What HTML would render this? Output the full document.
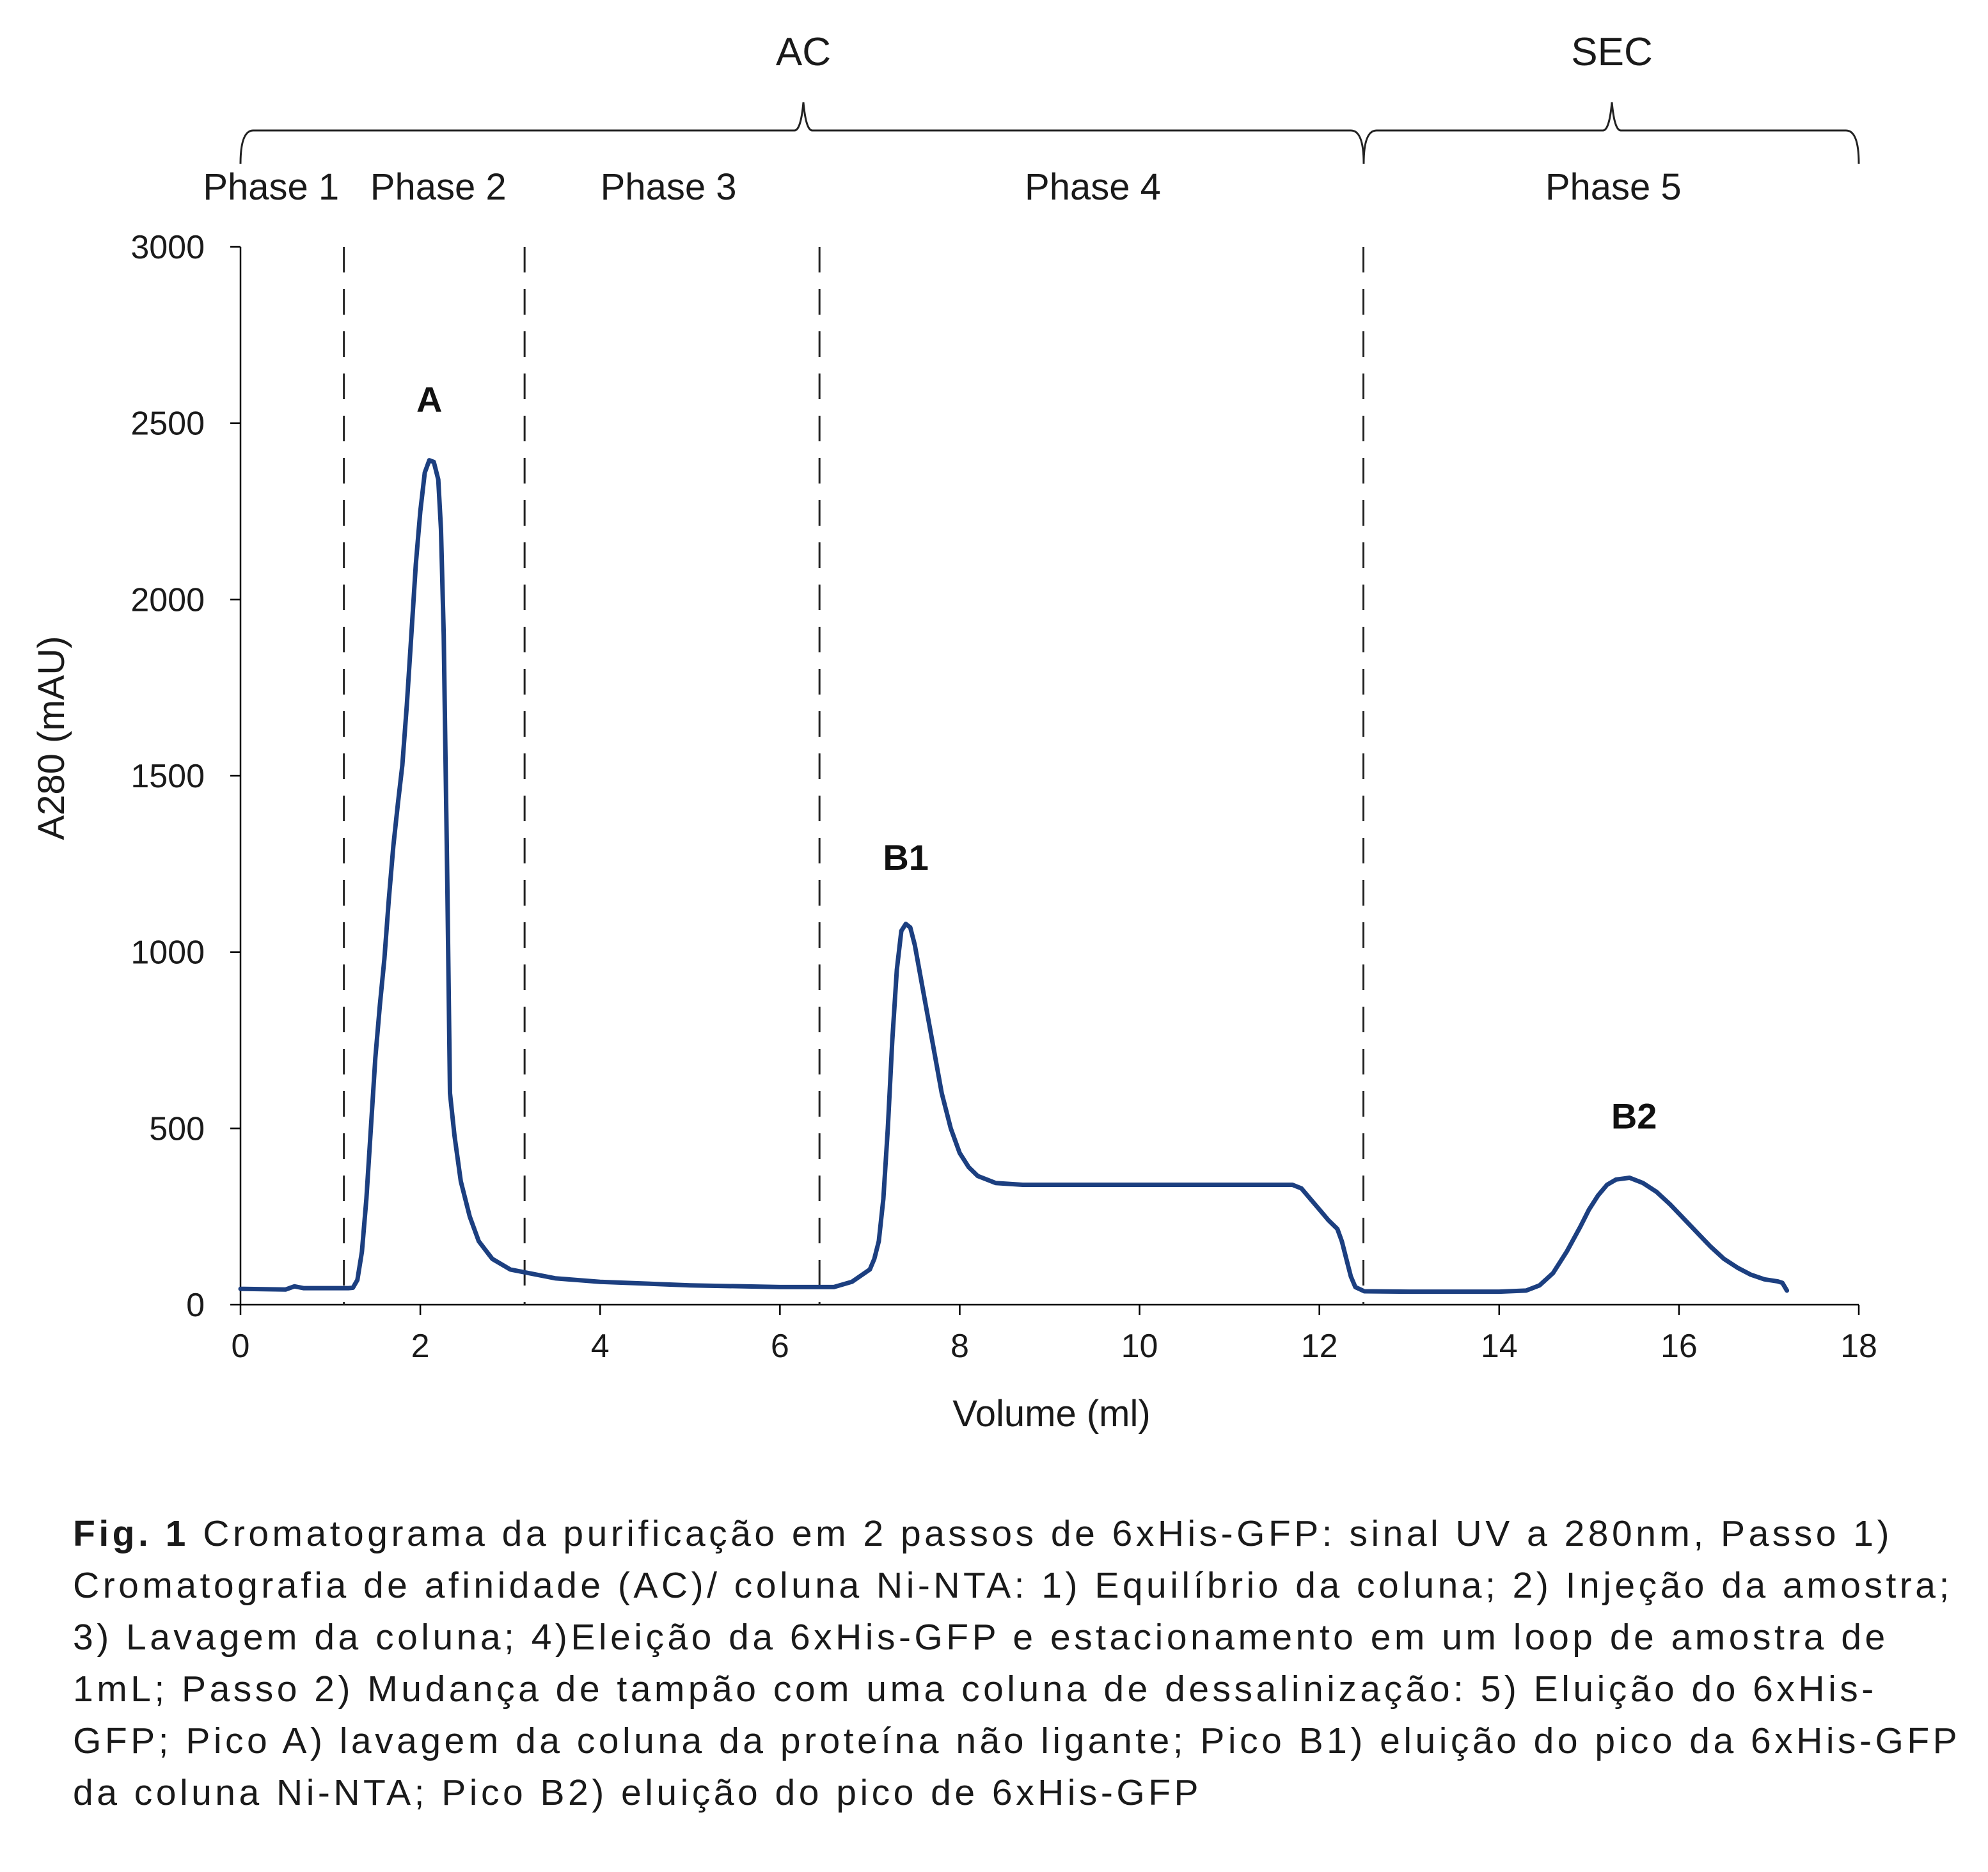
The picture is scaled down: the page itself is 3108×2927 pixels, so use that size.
<!DOCTYPE html>
<html><head><meta charset="utf-8"><style>
html,body{margin:0;padding:0;background:#fff;}
body{width:3108px;height:2927px;overflow:hidden;position:relative;font-family:"Liberation Sans",sans-serif;}
#cap{position:absolute;left:114px;top:2358px;width:2960px;font-size:57px;line-height:81px;color:#1a1a1a;letter-spacing:5.5px;}
</style></head><body>
<svg id="chart" width="3108" height="2300" style="position:absolute;left:0;top:0" font-family="Liberation Sans, sans-serif"></svg>
<div id="cap"><b>Fig. 1</b> Cromatograma da purificação em 2 passos de 6xHis-GFP: sinal UV a 280nm, Passo 1) Cromatografia de afinidade (AC)/ coluna Ni-NTA: 1) Equilíbrio da coluna; 2) Injeção da amostra; 3) Lavagem da coluna; 4)Eleição da 6xHis-GFP e estacionamento em um loop de amostra de 1mL; Passo 2) Mudança de tampão com uma coluna de dessalinização: 5) Eluição do 6xHis-GFP; Pico A) lavagem da coluna da proteína não ligante; Pico B1) eluição do pico da 6xHis-GFP da coluna Ni-NTA; Pico B2) eluição do pico de 6xHis-GFP</div>
<script>
const volumes=[0,0.5,0.6,0.7,1.2,1.25,1.3,1.35,1.4,1.45,1.5,1.55,1.6,1.65,1.7,1.75,1.8,1.85,1.9,1.95,2.0,2.05,2.1,2.15,2.2,2.23,2.26,2.3,2.33,2.38,2.45,2.55,2.65,2.8,3.0,3.5,4,5,6,6.6,6.8,7.0,7.05,7.1,7.15,7.2,7.25,7.3,7.35,7.4,7.45,7.5,7.6,7.7,7.8,7.9,8.0,8.1,8.2,8.4,8.7,9,10,11,11.7,11.8,11.9,12.0,12.1,12.2,12.25,12.3,12.35,12.4,12.5,13,14,14.3,14.45,14.6,14.75,14.9,15.0,15.1,15.2,15.3,15.45,15.6,15.75,15.9,16.05,16.2,16.35,16.5,16.65,16.8,16.95,17.1,17.15,17.2];
const absorb=[45,43,52,47,47,48,70,150,300,500,700,850,980,1150,1300,1420,1530,1700,1900,2100,2250,2360,2395,2390,2340,2200,1900,1200,600,480,350,250,180,130,100,75,65,55,50,50,65,100,130,180,300,500,750,950,1060,1080,1070,1020,880,740,600,500,430,390,365,345,340,340,340,340,340,330,300,270,240,215,180,130,80,50,38,37,37,40,55,90,150,220,270,310,340,355,360,345,320,285,245,205,165,130,105,85,72,66,62,40];
const xTicks=[0,2,4,6,8,10,12,14,16,18];
const yTicks=[0,500,1000,1500,2000,2500,3000];
const phaseBounds=[1.15,3.16,6.44,12.49];
const phaseLabels=["Phase 1","Phase 2","Phase 3","Phase 4","Phase 5"];
const phaseCenters=[0.34,2.2,4.76,9.48,15.27];
const peakLabels=["A","B1","B2"];
const peakPos=[[2.1,2532],[7.4,1233],[15.5,500]];
const X0=376,X1=2906,Y0=2040,Y1=386;
const sx=v=>X0+(X1-X0)*v/18, sy=v=>Y0-(Y0-Y1)*v/3000;
const svg=document.getElementById('chart');const NS='http://www.w3.org/2000/svg';
function mk(t,a,txt){const e=document.createElementNS(NS,t);for(const k in a)e.setAttribute(k,a[k]);if(txt!=null)e.textContent=txt;svg.appendChild(e);return e;}
let e;
e=mk('line',{x1:X0,y1:Y1,x2:X0,y2:Y0,stroke:'#000','stroke-width':2.5});


e=mk('line',{x1:X0,y1:Y0,x2:X1,y2:Y0,stroke:'#000','stroke-width':2.5});


xTicks.forEach(t=>{mk('line',{x1:sx(t),y1:Y0,x2:sx(t),y2:Y0+16,stroke:'#000','stroke-width':2.5});
e=mk('text',{x:sx(t),y:Y0+82,'font-size':52,'text-anchor':'middle',fill:'#1a1a1a'},t);

});
yTicks.forEach(t=>{mk('line',{x1:X0-16,y1:sy(t),x2:X0,y2:sy(t),stroke:'#000','stroke-width':2.5});
e=mk('text',{x:X0-56,y:sy(t)+18,'font-size':52,'text-anchor':'end',fill:'#1a1a1a'},t);

});
e=mk('text',{x:1644,y:2230,'font-size':58,'text-anchor':'middle',fill:'#1a1a1a'},'Volume (ml)');


e=mk('text',{x:0,y:0,'font-size':58,'text-anchor':'middle',fill:'#1a1a1a',transform:'translate(100,1154) rotate(-90)'},'A280 (mAU)');


phaseBounds.forEach(b=>{e=mk('line',{x1:sx(b),y1:Y1,x2:sx(b),y2:Y0,stroke:'#222','stroke-width':3,'stroke-dasharray':'40,26'});

});
phaseLabels.forEach((l,i)=>{e=mk('text',{x:sx(phaseCenters[i]),y:312,'font-size':58,'text-anchor':'middle',fill:'#1a1a1a'},l);

});
function brace(a,b,m,name){const ya=204,yb=256;
e=mk('path',{d:`M${a},${yb} Q${a},${ya} ${a+20},${ya} L${m-14},${ya} Q${m-4},${ya} ${m},${ya-44} Q${m+4},${ya} ${m+14},${ya} L${b-20},${ya} Q${b},${ya} ${b},${yb}`,fill:'none',stroke:'#222','stroke-width':3});

}
brace(376,2132,1256,'ac-bracket');brace(2132,2906,2520,'sec-bracket');
e=mk('text',{x:1256,y:102,'font-size':62,'text-anchor':'middle',fill:'#1a1a1a'},'AC');


e=mk('text',{x:2520,y:102,'font-size':62,'text-anchor':'middle',fill:'#1a1a1a'},'SEC');


let d='';volumes.forEach((v,i)=>{d+=(i?'L':'M')+sx(v).toFixed(1)+','+sy(absorb[i]).toFixed(1)+' ';});
e=mk('path',{d:d,fill:'none',stroke:'#1c3f80','stroke-width':7,'stroke-linejoin':'round','stroke-linecap':'round'});


peakLabels.forEach((l,i)=>{e=mk('text',{x:sx(peakPos[i][0]),y:sy(peakPos[i][1]),'font-size':56,'font-weight':'bold','text-anchor':'middle',fill:'#111'},l);

});
</script>
</body></html>
